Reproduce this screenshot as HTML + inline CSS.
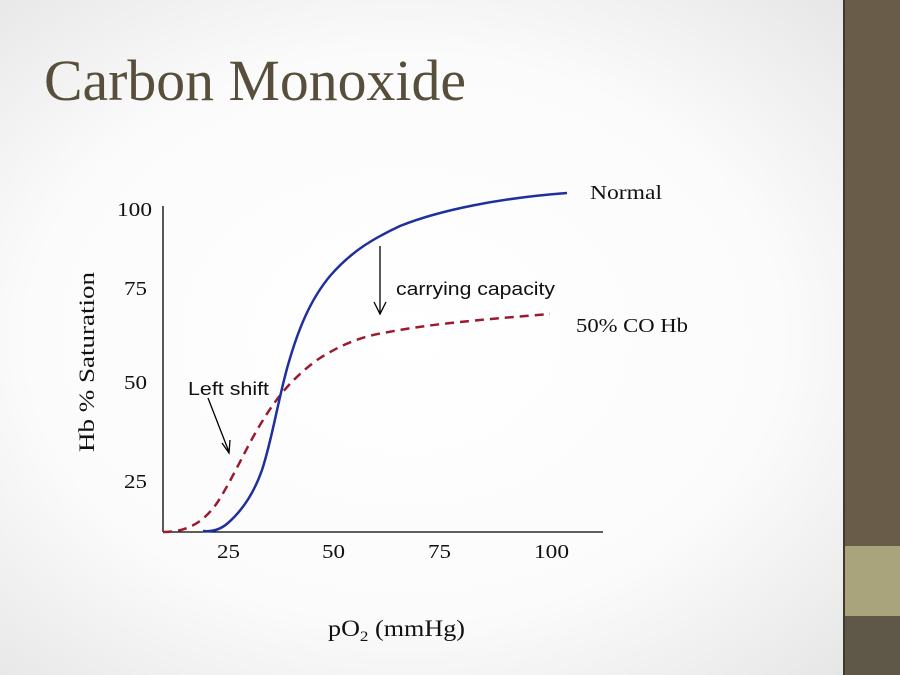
<!DOCTYPE html>
<html><head><meta charset="utf-8"><style>
html,body{margin:0;padding:0;width:900px;height:675px;overflow:hidden}
</style></head><body>
<svg width="900" height="675" viewBox="0 0 900 675" xmlns="http://www.w3.org/2000/svg">
<defs>
<radialGradient id="bg" cx="0.45" cy="0.5" r="0.7">
<stop offset="0" stop-color="#ffffff"/><stop offset="0.6" stop-color="#fbfbfb"/><stop offset="1" stop-color="#e6e6e6"/>
</radialGradient>
</defs>
<rect width="900" height="675" fill="url(#bg)"/>
<rect x="843" y="0" width="57" height="675" fill="#695c48"/>
<rect x="843" y="0" width="2" height="675" fill="#3f3a30"/>
<rect x="845" y="546" width="55" height="70" fill="#a9a47c"/>
<rect x="845" y="616" width="55" height="59" fill="#5f5747"/>
<text x="44" y="100" font-family="Liberation Serif, serif" font-size="58" fill="#584e3c" textLength="422" lengthAdjust="spacingAndGlyphs">Carbon Monoxide</text>
<g stroke="#000" stroke-width="1.3" fill="none">
<line x1="163" y1="206" x2="163" y2="532"/>
<line x1="163" y1="532" x2="603" y2="532"/>
<line x1="380" y1="246" x2="380" y2="313"/>
<polyline points="374,302 380,314 386,302"/>
<line x1="208" y1="398" x2="229" y2="452"/>
<polyline points="222,443 229,453 230,440"/>
</g>
<path d="M163,532 C190,532 205,520 217,503 C232,480 245,450 260,425 C275,400 290,380 317,360 C340,345 360,337 383,333 C420,326 450,322 550,314" fill="none" stroke="#9b1b2e" stroke-width="2.5" stroke-dasharray="9,6"/>
<path d="M203,531 C212,532 220,530 228,523 C245,508 255,490 262,470 C272,440 278,400 288,365 C298,330 310,300 330,276 C350,253 370,240 400,226 C440,210 500,198 567,193" fill="none" stroke="#1f2f9c" stroke-width="2.5"/>
<g font-family="Liberation Serif, serif" font-size="20" fill="#111">
<text x="152" y="216" text-anchor="end" textLength="35" lengthAdjust="spacingAndGlyphs">100</text>
<text x="147" y="295" text-anchor="end" textLength="23" lengthAdjust="spacingAndGlyphs">75</text>
<text x="147" y="389" text-anchor="end" textLength="23" lengthAdjust="spacingAndGlyphs">50</text>
<text x="147" y="488" text-anchor="end" textLength="23" lengthAdjust="spacingAndGlyphs">25</text>
<text x="217" y="558" textLength="23" lengthAdjust="spacingAndGlyphs">25</text>
<text x="322" y="558" textLength="23" lengthAdjust="spacingAndGlyphs">50</text>
<text x="428" y="558" textLength="23" lengthAdjust="spacingAndGlyphs">75</text>
<text x="534" y="558" textLength="35" lengthAdjust="spacingAndGlyphs">100</text>
<text x="590" y="199" textLength="72" lengthAdjust="spacingAndGlyphs">Normal</text>
<text x="576" y="332" textLength="112" lengthAdjust="spacingAndGlyphs">50% CO Hb</text>
<text x="328" y="636" font-size="23" textLength="137" lengthAdjust="spacingAndGlyphs">pO<tspan font-size="15" dy="5">2</tspan><tspan dy="-5"> (mmHg)</tspan></text>
<text transform="translate(94,362) rotate(-90)" text-anchor="middle" font-size="22" textLength="180" lengthAdjust="spacingAndGlyphs">Hb % Saturation</text>
</g>
<g font-family="Liberation Sans, sans-serif" font-size="18" fill="#111">
<text x="396" y="295" textLength="159" lengthAdjust="spacingAndGlyphs">carrying capacity</text>
<text x="188" y="395" textLength="81" lengthAdjust="spacingAndGlyphs">Left shift</text>
</g>
</svg>
</body></html>
